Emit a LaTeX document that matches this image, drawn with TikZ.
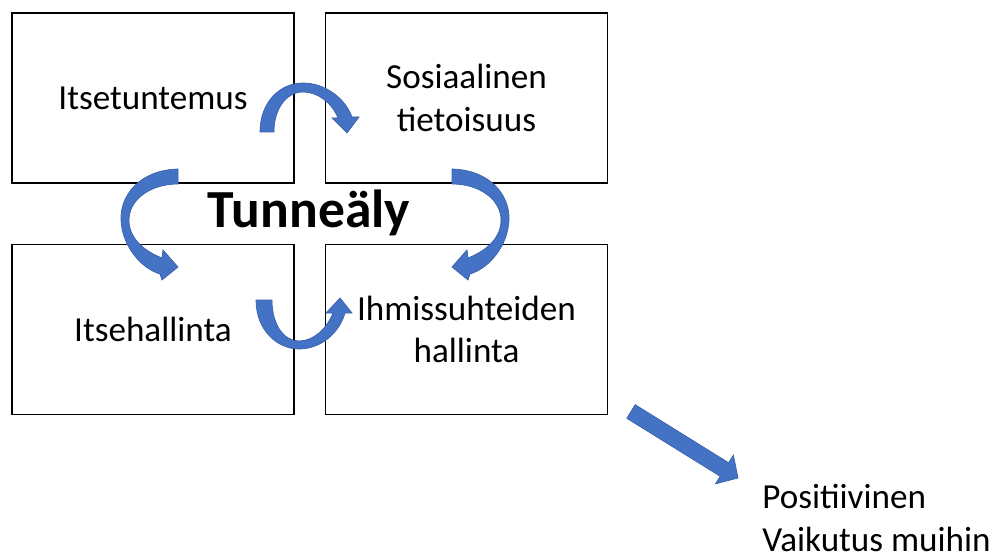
\documentclass[tikz,border=0pt]{standalone}
\usepackage{fontspec}
\setmainfont{Carlito}
\usetikzlibrary{positioning}
\definecolor{blockblue}{HTML}{4472C4}
\definecolor{blockedge}{HTML}{3A62AA}

\begin{document}
\begin{tikzpicture}[x = 0.02cm, y = -0.02cm,
		box/.style = {draw, line width = 0.9pt, minimum width = 5.64cm, minimum height = 3.4cm, align = center, font = \fontsize{20}{24}\selectfont},
		blockarrow/.style = {fill = blockblue, draw = blockedge, line width = 0.4pt}]
		\useasboundingbox (0,0) rectangle (998,554);
		\node (self) at (153,98) [box] {Itsetuntemus};
		\node (social) at (466.5,98) [box] {Sosiaalinen\\tietoisuus};
		\node (manage) at (153,329.5) [box] {Itsehallinta};
		\node (relate) at (466.5,329.5) [box] {Ihmissuhteiden\\hallinta};
		\node (eq) at (309,213) [font = \fontsize{30.5}{36}\selectfont\bfseries] {Tunneäly};
		\node (effect) at (762,518) [anchor = west, inner sep = 0pt, align = left, font = \fontsize{20}{24}\selectfont] {Positiivinen\\Vaikutus muihin};
		% top: self -> social
		\draw [blockarrow] (260,132) .. controls (260,102) and (280,83) .. (303,83) .. controls (325,83) and (345,98) .. (352,117)
			-- (359,117) -- (347,133) -- (332,118) -- (338,118) .. controls (332,103) and (318,92) .. (303,92)
			.. controls (287,92) and (274,108) .. (274,132) -- cycle;
		% left: self -> manage
		\draw [blockarrow] (178,169) .. controls (140,170) and (120,195) .. (121,220) .. controls (122,245) and (140,268) .. (160,274)
			-- (162,280) -- (178,267) -- (163,250) -- (162,258) .. controls (142,250) and (129,237) .. (129,220)
			.. controls (129,200) and (150,184) .. (178,184) -- cycle;
		% right: social -> relate
		\draw [blockarrow] (452,169) .. controls (490,170) and (510,195) .. (509,220) .. controls (508,245) and (490,268) .. (470,274)
			-- (468,280) -- (452,267) -- (467,250) -- (468,258) .. controls (488,250) and (501,237) .. (501,220)
			.. controls (501,200) and (480,184) .. (452,184) -- cycle;
		% bottom: manage -> relate
		\draw [blockarrow] (256,300) .. controls (256,330) and (277,349) .. (299,349) .. controls (320,349) and (339,334) .. (345,313)
			-- (352,313) -- (340,298) -- (326,313) -- (333,313) .. controls (327,328) and (314,341) .. (299,341)
			.. controls (284,341) and (272,325) .. (272,300) -- cycle;
		% out to effect
		\draw [blockarrow] (626.8,418.3) -- (720.2,476.3) -- (715.4,483.9) -- (738,478) -- (733.4,455.1) -- (728.6,462.7) -- (635.2,404.7) -- cycle;
	\end{tikzpicture}
\end{document}
